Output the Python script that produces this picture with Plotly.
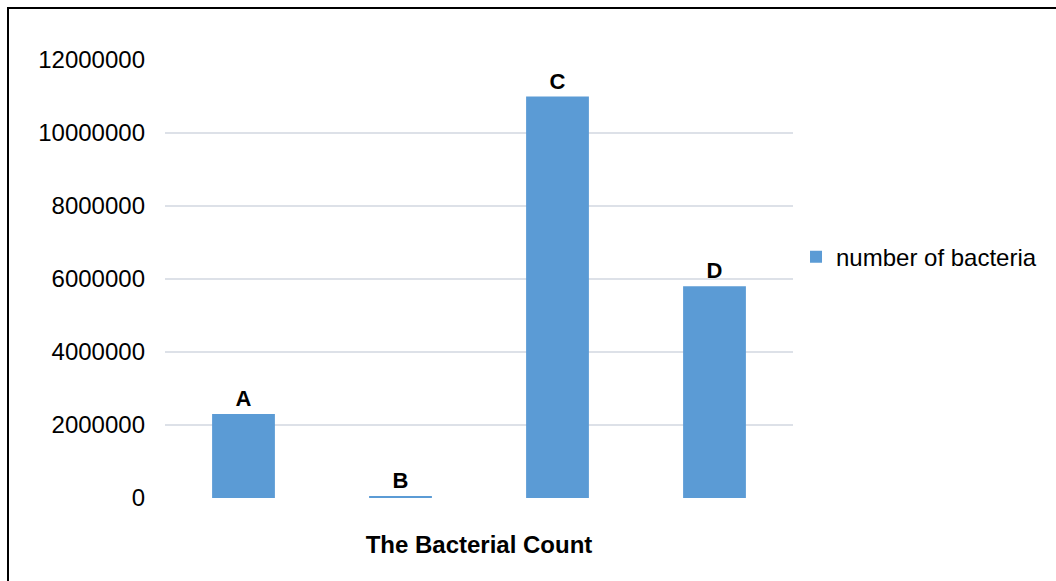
import plotly.graph_objects as go

categories = ["A", "B", "C", "D"]
values = [2300000, 50000, 11000000, 5800000]
series_name = "number of bacteria"
y_ticks = [0, 2000000, 4000000, 6000000, 8000000, 10000000, 12000000]
y_tick_labels = [str(v) for v in y_ticks]

fig = go.Figure()
fig.add_trace(go.Bar(
    x=categories,
    y=values,
    name=series_name,
    text=categories,
    textposition="outside",
    constraintext="none",
    textfont=dict(family="Liberation Sans, Arial", size=22, color="black", weight="bold"),
    cliponaxis=False,
    marker=dict(color="#5b9bd5", line=dict(width=0)),
    showlegend=True,
))

fig.update_layout(
    width=1056, height=581,
    margin=dict(l=165, r=263, t=60, b=83),
    plot_bgcolor="white",
    paper_bgcolor="white",
    font=dict(family="Liberation Sans, Arial", size=24, color="black"),
    bargap=0.6,
    showlegend=True,
    legend=dict(x=1.0048, y=0.55, xanchor="left", yanchor="middle",
                font=dict(size=24, color="black"), itemwidth=30),
    xaxis=dict(showticklabels=False, showgrid=False, zeroline=False, showline=False,
               title=dict(text="<b>The Bacterial Count</b>", font=dict(size=24), standoff=38)),
    yaxis=dict(range=[0, 12000000], tickvals=y_ticks, ticktext=y_tick_labels,
               showgrid=True, gridcolor="#dde1e8", gridwidth=2, zeroline=False,
               showline=False, ticks="", ticklabelstandoff=19),
    shapes=[dict(type="rect", xref="paper", yref="paper",
                 x0=-0.25, x1=1.6, y0=-0.4, y1=1.1187,
                 line=dict(color="black", width=2), fillcolor="rgba(0,0,0,0)")],
)

fig.write_html("out.html")
